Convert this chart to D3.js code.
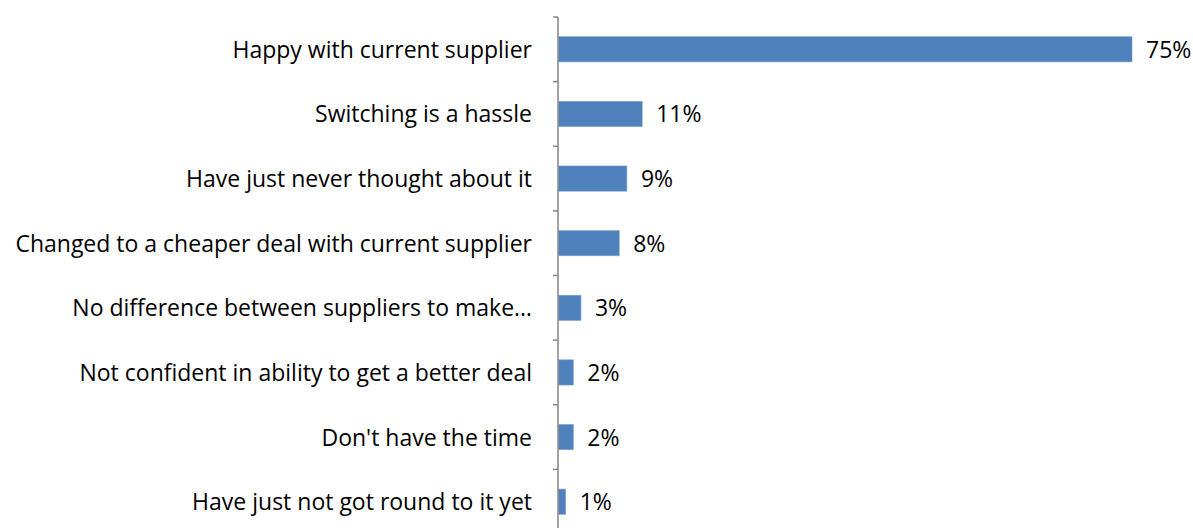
<!DOCTYPE html>
<html>
<head>
<meta charset="utf-8">
<script src="https://cdn.jsdelivr.net/npm/d3@7"></script>
<style>
  html, body { margin: 0; padding: 0; background: #fff; }
  svg { display: block; }
  text { font-family: "Open Sans", Lato, sans-serif; fill: #000; }
</style>
</head>
<body>
<svg id="chart" width="1193" height="528"></svg>
<script>
// Reasons for not switching supplier (% of respondents)
const categories = [
  "Happy with current supplier",
  "Switching is a hassle",
  "Have just never thought about it",
  "Changed to a cheaper deal with current supplier",
  "No difference between suppliers to make\u2026",
  "Not confident in ability to get a better deal",
  "Don't have the time",
  "Have just not got round to it yet"
];
const values = [75, 11, 9, 8, 3, 2, 2, 1];
const valueLabels = ["75%", "11%", "9%", "8%", "3%", "2%", "2%", "1%"];

const svg = d3.select("#chart");
const axisX = 558;
const plotTop = 17;
const plotBottom = 534;
const fontSize = 23;

const x = d3.scaleLinear().domain([0, 75]).range([axisX, 1132]);
const y = d3.scaleBand().domain(categories).range([plotTop, plotBottom])
  .paddingInner(0.61).paddingOuter(0.305);
const yBand = d3.scaleBand().domain(categories).range([plotTop, plotBottom]).padding(0);

// Bars
svg.append("g").selectAll("rect")
  .data(categories)
  .join("rect")
  .attr("x", axisX + 0.5)
  .attr("y", d => y(d))
  .attr("width", (d, i) => x(values[i]) - axisX - 0.5)
  .attr("height", y.bandwidth())
  .attr("fill", "#4F81BD")
  .attr("stroke", "#7BA0CD")
  .attr("stroke-width", 0.6);

// Value labels
svg.append("g").selectAll("text")
  .data(categories)
  .join("text")
  .attr("x", (d, i) => x(values[i]) + 14)
  .attr("y", d => y(d) + y.bandwidth() / 2)
  .attr("dy", "0.37em")
  .attr("font-size", fontSize)
  .text((d, i) => valueLabels[i]);

// Category axis
const axis = svg.append("g");
axis.append("line")
  .attr("x1", axisX).attr("x2", axisX)
  .attr("y1", plotTop).attr("y2", plotBottom)
  .attr("stroke", "#868686").attr("stroke-width", 1.5);
const tickPos = categories.map(c => yBand(c)).concat([plotBottom]);
axis.selectAll("line.tick")
  .data(tickPos)
  .join("line")
  .attr("class", "tick")
  .attr("x1", axisX - 5).attr("x2", axisX)
  .attr("y1", d => d).attr("y2", d => d)
  .attr("stroke", "#868686").attr("stroke-width", 1.5);

axis.selectAll("text")
  .data(categories)
  .join("text")
  .attr("x", axisX - 26)
  .attr("y", d => yBand(d) + yBand.bandwidth() / 2)
  .attr("dy", "0.37em")
  .attr("text-anchor", "end")
  .attr("font-size", fontSize)
  .text(d => d);
</script>
</body>
</html>
